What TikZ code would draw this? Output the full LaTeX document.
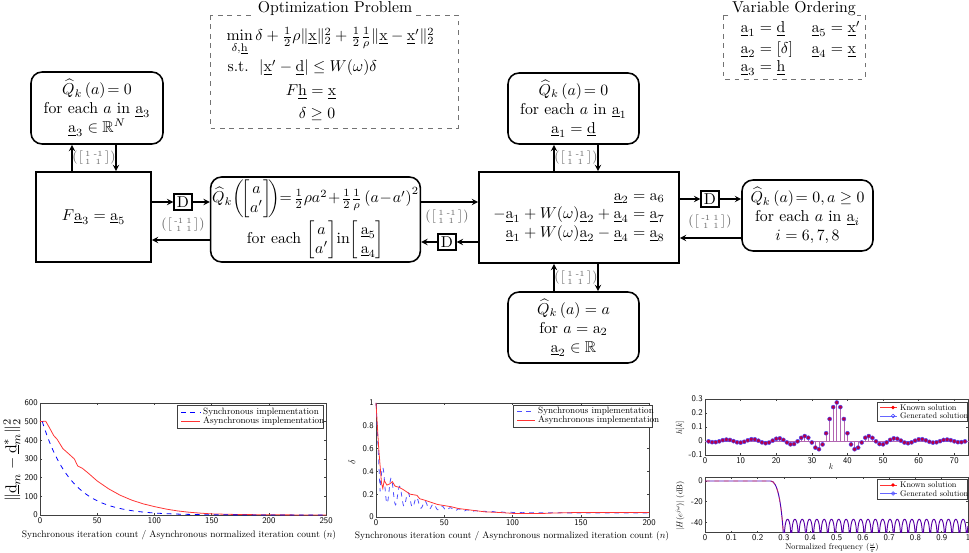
\documentclass[tikz,border=0pt]{standalone}
\usepackage{amsmath,amssymb}
\usetikzlibrary{positioning}

\newcommand{\ua}[1]{\underline{\mathrm{a}}_{#1}}
\newcommand{\uv}[1]{\underline{\mathrm{#1}}}
\newcommand{\Qk}{\widehat{Q}_k}
\newcommand{\colvec}[2]{\left[\begin{array}{@{}c@{}}#1\\#2\end{array}\right]}
\newcommand{\mlabel}[4]{$\left(\left[\begin{smallmatrix}#1&#2\\#3&#4\end{smallmatrix}\right]\right)$}

\tikzset{
  boxwh/.style 2 args={minimum width=#1*0.0223cm, minimum height=#2*0.0223cm},
  qbox/.style={draw, line width=1pt, rounded corners=7pt, align=center, inner sep=1pt},
  eqbox/.style={draw, line width=1pt, align=center, inner sep=1pt},
  dbox/.style={draw, line width=1pt, inner sep=1.8pt},
  lnk/.style={-stealth, line width=0.8pt},
  mlab/.style={text=black!60, font=\scriptsize},
  dashbox/.style={draw=black!55, dashed},
  frame/.style={draw=black!75, line width=0.4pt},
  tick/.style={font=\sffamily, scale=0.55, transform shape, inner sep=2.5pt},
  legtext/.style={scale=0.58, transform shape, anchor=west, inner sep=0pt},
  legsmall/.style={scale=0.52, transform shape, anchor=west, inner sep=0pt},
  axlabel/.style={scale=0.6, transform shape},
  axsmall/.style={scale=0.52, transform shape},
}

\begin{document}
\begin{tikzpicture}[x=0.0223cm, y=-0.0223cm]
\useasboundingbox (0,0) rectangle (969,553);

% optimization problem and variable ordering
\draw[dashbox] (210,15) rectangle (458,128);
\node[fill=white, inner sep=1pt, anchor=base] (optt) at (335,13) {Optimization Problem};
\node[anchor=base west] (minl) at (221,41) {$\min\limits_{\delta,\uv{h}}\delta+\frac12\rho\|\uv{x}\|_2^2+\frac12\frac1\rho\|\uv{x}-\uv{x}'\|_2^2$};
\node[anchor=base west] (stl) at (222,72) {s.t.\ \ $|\uv{x}'-\uv{d}|\le W(\omega)\delta$};
\node[anchor=base] (fhl) at (311,96) {$F\uv{h}=\uv{x}$};
\node[anchor=base] (dgl) at (317,119) {$\delta\geq 0$};

\draw[dashbox] (723,15) rectangle (865,79);
\node[fill=white, inner sep=1pt, anchor=base] (vart) at (794,13) {Variable Ordering};
\node[anchor=base west] (v1) at (735,33) {$\ua1=\uv{d}$};
\node[anchor=base west] (v5) at (806,33) {$\ua5=\uv{x}'$};
\node[anchor=base west] (v2) at (735,54) {$\ua2=[\delta]$};
\node[anchor=base west] (v4) at (806,54) {$\ua4=\uv{x}$};
\node[anchor=base west] (v3) at (735,72) {$\ua3=\uv{h}$};

% factor graph
\node[qbox, boxwh={132}{72}] (q3) at (97,108) {$\Qk\left(a\right)\!= 0$\\ for each $a$ in $\ua3$\\ $\ua3\in\mathbb{R}^N$};
\node[eqbox, boxwh={115}{90}] (fa) at (93.5,217) {$F\ua3=\ua5$};
\node[qbox, boxwh={203}{85}] (qm) at (315.5,219.5) {$\Qk\!\left(\!\colvec{\,a\,}{a'}\!\right)\!\!=\!\frac12\rho a^2\!+\!\frac12\frac1\rho\left(a\!-\!a'\right)^2$\\[1pt] for each $\colvec{\,a\,}{a'}$in$\colvec{\,\ua5}{\,\ua4}$};
\node[eqbox, align=right, boxwh={200}{91}] (big) at (579,217.5) {$\ua2=\mathrm{a}_6$\\ $-\ua1+W(\omega)\ua2+\ua4=\ua7$\\ $\ua1+W(\omega)\ua2-\ua4=\ua8$};
\node[qbox, boxwh={131}{71}] (q1) at (573.5,108.5) {$\Qk\left(a\right)\!= 0$\\ for each $a$ in $\ua1$\\ $\ua1=\uv{d}$};
\node[qbox, boxwh={131}{71}] (q2) at (573.5,327.5) {$\Qk\left(a\right)=a$\\ for $a=\mathrm{a}_2$\\ $\ua2\in\mathbb{R}$};
\node[qbox, boxwh={131}{71}] (qi) at (807.5,215.5) {$\Qk\left(a\right)\!= 0, a\geq 0$\\ for each $a$ in $\ua{i}$\\ $i=6,7,8$};

\node[dbox] (d1) at (183,202) {D};
\node[dbox] (d2) at (447,242) {D};
\node[dbox] (d3) at (710,199) {D};

\draw[lnk] (fa.north -| 72,0) -- (q3.south -| 72,0);
\draw[lnk] (q3.south -| 116,0) -- (fa.north -| 116,0);
\draw[lnk] (fa.east |- d1) -- (d1);
\draw[lnk] (d1) -- (qm.west |- d1);
\draw[lnk] (qm.west |- 0,240) -- (fa.east |- 0,240);
\draw[lnk] (qm.east |- 0,202) -- (big.west |- 0,202);
\draw[lnk] (big.west |- d2) -- (d2);
\draw[lnk] (d2) -- (qm.east |- d2);
\draw[lnk] (big.north -| 554,0) -- (q1.south -| 554,0);
\draw[lnk] (q1.south -| 598,0) -- (big.north -| 598,0);
\draw[lnk] (q2.north -| 554,0) -- (big.south -| 554,0);
\draw[lnk] (big.south -| 598,0) -- (q2.north -| 598,0);
\draw[lnk] (big.east |- d3) -- (d3);
\draw[lnk] (d3) -- (qi.west |- d3);
\draw[lnk] (qi.west |- 0,238) -- (big.east |- 0,238);

\node[mlab] (m3) at (94,158) {\mlabel{1}{\text{-}1}{1}{1}};
\node[mlab] (md1) at (183,225) {\mlabel{\text{-}1}{1}{1}{1}};
\node[mlab] (md2) at (447,217) {\mlabel{1}{\text{-}1}{1}{1}};
\node[mlab] (m1) at (576,158) {\mlabel{1}{\text{-}1}{1}{1}};
\node[mlab] (m2) at (576,278) {\mlabel{1}{\text{-}1}{1}{1}};
\node[mlab] (md3) at (710,222) {\mlabel{\text{-}1}{1}{1}{1}};

% plot: squared error of d
\begin{scope}[shift={(40,515)}, x=0.025511cm, y=0.0041627cm]
  \draw[frame] (0,0) rectangle (250,600);
  \foreach \xv in {0,50,...,250} {
    \draw[frame] (\xv,0) -- ++(0,0.05cm) (\xv,600) -- ++(0,-0.05cm);
    \node[tick, below] at (\xv,0) {\xv};
  }
  \foreach \yv in {0,100,...,600} {
    \draw[frame] (0,\yv) -- ++(0.05cm,0) (250,\yv) -- ++(-0.05cm,0);
    \node[tick, left] at (0,\yv) {\yv};
  }
  \draw[red!80, line width=0.5pt] plot coordinates {(0,500) (5,502) (8,470) (12,425) (15,405) (20,355) (25,328) (30,300) (33,262) (37,250) (42,225) (50,182) (60,140) (70,106) (80,80) (90,60) (100,45) (110,32) (120,22) (130,15) (140,10) (150,6) (170,3) (200,1) (250,0)};
  \draw[blue, dashed, line width=0.5pt] plot[domain=2:250, samples=120] (\x,{500*exp(-(\x-2)/25.5)});
\end{scope}
\draw[frame, fill=white] (177,405) rectangle (323,428);
\draw[blue, dashed, line width=0.5pt] (181,412) -- (200,412);
\node[legtext] at (203,412) {Synchronous implementation};
\draw[red!80, line width=0.5pt] (181,421) -- (200,421);
\node[legtext] at (203,421) {Asynchronous implementation};
\node[axlabel] at (179,535) {Synchronous iteration count / Asynchronous normalized iteration count $(n)$};
\node[rotate=90, inner sep=1pt] at (12,460) {$\|\uv{d}_m-\uv{d}^*_m\|_2^2$};

% plot: delta
\begin{scope}[shift={(376,517)}, x=0.030440cm, y=2.5422cm]
  \draw[frame] (0,0) rectangle (200,1);
  \foreach \xv in {0,50,...,200} {
    \draw[frame] (\xv,0) -- ++(0,0.05cm) (\xv,1) -- ++(0,-0.05cm);
    \node[tick, below] at (\xv,0) {\xv};
  }
  \foreach \yv in {0,0.2,0.4,0.6,0.8,1} {
    \draw[frame] (0,\yv) -- ++(0.05cm,0) (200,\yv) -- ++(-0.05cm,0);
    \node[tick, left] at (0,\yv) {\yv};
  }
  \draw[blue!70, dashed, line width=0.5pt] (0,1) -- plot[domain=3:200, samples=400] (\x,{0.035+0.3*exp(-\x/25)+0.2*exp(-\x/20)*sin(58.06*(\x-3.45))});
  \draw[red!80, line width=0.5pt] plot coordinates {(0,1) (2,0.6) (4,0.3) (5,0.25) (6,0.32) (8,0.28) (10,0.29) (12,0.31) (14,0.27) (17,0.26) (20,0.24) (25,0.2) (30,0.19) (32,0.16) (35,0.15) (40,0.13) (45,0.11) (50,0.1) (55,0.09) (60,0.075) (70,0.06) (80,0.045) (90,0.04) (100,0.032) (110,0.03) (120,0.03) (130,0.035) (150,0.04) (200,0.04)};
\end{scope}
\draw[frame, fill=white] (513,405) rectangle (652,427);
\draw[blue!70, dashed, line width=0.5pt] (517,411) -- (535,411);
\node[legtext] at (538,411) {Synchronous implementation};
\draw[red!80, line width=0.5pt] (517,420) -- (535,420);
\node[legtext] at (538,420) {Asynchronous implementation};
\node[axlabel] at (512,536) {Synchronous iteration count / Asynchronous normalized iteration count $(n)$};
\node[axlabel, rotate=90] at (352,462) {$\delta$};

% plot: filter taps
\begin{scope}[shift={(705,441)}, x=0.079388cm, y=3.1220cm]
  \draw[frame] (0,-0.1) rectangle (74,0.3);
  \foreach \xv in {0,10,...,70} {
    \draw[frame] (\xv,-0.1) -- ++(0,0.05cm) (\xv,0.3) -- ++(0,-0.05cm);
    \node[tick, below] at (\xv,-0.1) {\xv};
  }
  \foreach \yv in {-0.1,0,0.1,0.2,0.3} {
    \draw[frame] (0,\yv) -- ++(0.05cm,0) (74,\yv) -- ++(-0.05cm,0);
    \node[tick, left] at (0,\yv) {\yv};
  }
  \draw[violet!60, line width=0.4pt] (0,0) -- (74,0);
  \foreach \k in {1,...,73} {
    \pgfmathsetmacro\n{\k-37}
    \pgfmathsetmacro\h{sin(49.5*\n)/(pi*(\n+(\n==0)))+0.275*(\n==0)}
    \draw[violet!60, line width=0.5pt] (\k,0) -- (\k,\h);
    \fill[red!70!blue] (\k,\h) circle[radius=0.045cm];
    \draw[blue!70, line width=0.3pt] (\k,\h) circle[radius=0.045cm];
  }
\end{scope}
\draw[frame, fill=white] (877,402) rectangle (967,421);
\draw[red!80, line width=0.5pt] (880,407.5) -- (897,407.5);
\fill[red] (893,407.5) circle[radius=0.04cm];
\node[legsmall] at (900,407.5) {Known solution};
\draw[blue!60, line width=0.5pt] (880,416) -- (897,416);
\draw[blue!70, line width=0.4pt] (893,416) circle[radius=0.04cm];
\node[legsmall] at (900,416) {Generated solution};
\node[axsmall] at (831,467) {$k$};
\node[axsmall, rotate=90] at (680,428) {$h[k]$};

% plot: frequency response
\begin{scope}[shift={(705,481)}, x=5.8649cm, y=0.023081cm]
  \draw[frame] (0,-50) rectangle (1,4);
  \foreach \xv in {0,0.1,0.2,0.3,0.4,0.5,0.6,0.7,0.8,0.9,1} {
    \draw[frame] (\xv,-50) -- ++(0,0.05cm) (\xv,4) -- ++(0,-0.05cm);
    \node[tick, below, inner sep=1.5pt] at (\xv,-50) {\xv};
  }
  \foreach \yv in {0,-20,-40} {
    \draw[frame] (0,\yv) -- ++(0.05cm,0) (1,\yv) -- ++(-0.05cm,0);
    \node[tick, left] at (0,\yv) {\yv};
  }
  \begin{scope}
    \clip (0,-50) rectangle (1,4);
    \draw[blue!70!red, line width=0.6pt] (0,0) -- (0.25,0) .. controls (0.275,0) and (0.29,-20) .. (0.298,-52);
    \draw[blue!65!red, line width=0.6pt] plot[domain=0.3:1, samples=600] (\x,{-37+8.686*ln(abs(sin(180*(\x-0.3)/0.0278))+0.002)});
    \draw[red!80, dashed, line width=0.5pt, opacity=0.6] (0,0) -- (0.25,0) .. controls (0.275,0) and (0.29,-20) .. (0.298,-52);
  \end{scope}
\end{scope}
\draw[frame, fill=white] (877,479) rectangle (967,499);
\draw[red!80, line width=0.5pt] (880,485) -- (897,485);
\fill[red] (893,485) circle[radius=0.04cm];
\node[legsmall] at (900,485) {Known solution};
\draw[blue!60, line width=0.5pt] (880,493.5) -- (897,493.5);
\draw[blue!70, line width=0.4pt] (893,493.5) circle[radius=0.04cm];
\node[legsmall] at (900,493.5) {Generated solution};
\node[axsmall, inner sep=0pt] at (832,548) {Normalized frequency $(\frac{\omega}{\pi})$};
\node[axsmall, rotate=90] at (680,506) {$|H(e^{j\omega})|$ (dB)};
\end{tikzpicture}
\end{document}
